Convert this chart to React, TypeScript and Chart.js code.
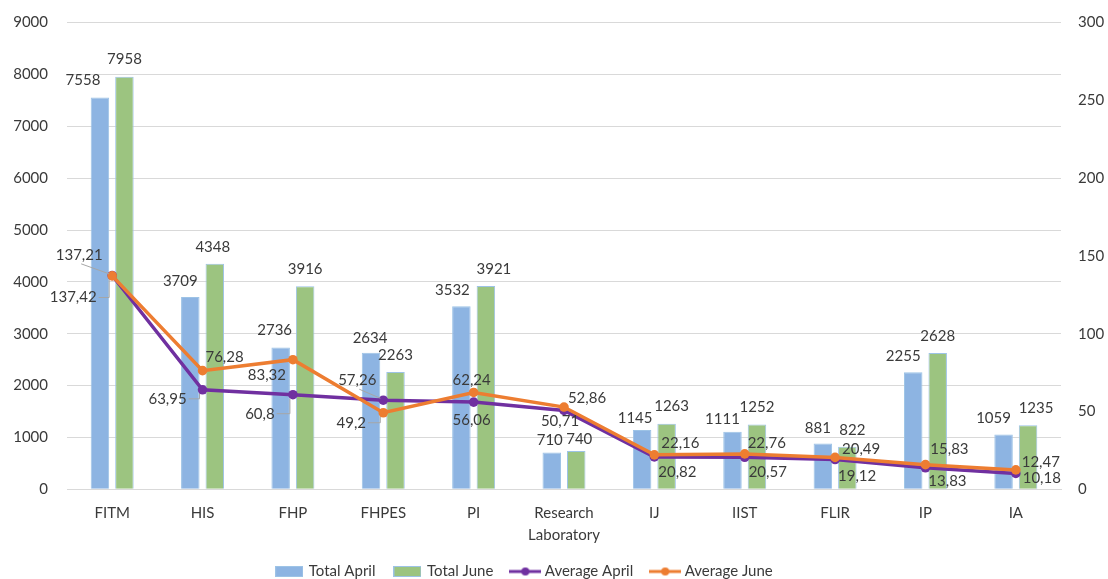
import React, { useEffect, useRef } from 'react';
import { Chart, registerables } from 'chart.js';

Chart.register(...registerables);

const categories: (string | string[])[] = ['FITM', 'HIS', 'FHP', 'FHPES', 'PI', ['Research', 'Laboratory'], 'IJ', 'IIST', 'FLIR', 'IP', 'IA'];
const totalApril = [7558, 3709, 2736, 2634, 3532, 710, 1145, 1111, 881, 2255, 1059];
const totalJune = [7958, 4348, 3916, 2263, 3921, 740, 1263, 1252, 822, 2628, 1235];
const averageApril = [137.42, 63.95, 60.8, 57.26, 56.06, 50.71, 20.82, 20.57, 19.12, 13.83, 10.18];
const averageJune = [137.21, 76.28, 83.32, 49.2, 62.24, 52.86, 22.16, 22.76, 20.49, 15.83, 12.47];
const leftAxis = { min: 0, max: 9000, step: 1000 };
const rightAxis = { min: 0, max: 300, step: 50 };
const seriesNames = ['Total April', 'Total June', 'Average April', 'Average June'];

const BLUE = '#8DB4E2';
const GREEN = '#9CC480';
const PURPLE = '#7030A0';
const ORANGE = '#ED7D31';
const TEXT = '#3A3A3A';
const FONT = 'Lato';

// label placement (style only): [dx, dy, leader]
const LABEL_OFFSETS: [number, number, number][][] = [
  [[-17, -17, 0], [-10, -16, 0], [-6, -17, 0], [-1, -15, 0], [-9, -16, 0], [-2, -12, 0], [-7, -12, 0], [-10, -13, 0], [-5, -15, 0], [-10, -16, 0], [-10, -16, 0]],
  [[0, -17, 0], [-2, -17, 0], [0, -17, 0], [0, -17, 0], [8, -17, 0], [3, -12, 0], [5, -18, 0], [0, -17, 0], [5, -17, 0], [0, -17, 0], [8, -17, 0]],
  [[-39, 22, 1], [-35, 9, 1], [-33, 19, 1], [-26, -20, 1], [-2, 18, 0], [-4, 11, 0], [23, 15, 0], [23, 15, 0], [22, 17, 0], [22, 13, 0], [26, 5, 0]],
  [[-33, -21, 1], [22, -13, 0], [-26, 15, 0], [-32, 10, 1], [-2, -12, 0], [23, -9, 0], [26, -12, 0], [22, -11, 0], [26, -8, 0], [24, -16, 0], [25, -8, 0]],
];

const valueLabels = {
  id: 'valueLabels',
  afterLayout(chart: any) {
    // shift the legend block slightly left, as in the reference
    if (chart.legend) chart.legend.right -= 58;
  },
  afterDatasetsDraw(chart: any) {
    const ctx = chart.ctx;
    ctx.save();
    ctx.font = `15px ${FONT}`;
    ctx.textAlign = 'center';
    ctx.textBaseline = 'middle';
    chart.data.datasets.forEach((ds: any, di: number) => {
      const meta = chart.getDatasetMeta(di);
      meta.data.forEach((el: any, i: number) => {
        const v = ds.data[i];
        const [dx, dy, leader] = LABEL_OFFSETS[di][i];
        const x = el.x + dx;
        const y = el.y + dy;
        const text = String(v).replace('.', ',');
        const w = ctx.measureText(text).width;
        if (leader) {
          ctx.strokeStyle = '#A6A6A6';
          ctx.lineWidth = 1;
          ctx.beginPath();
          if (el.y > y) {
            ctx.moveTo(x + 2, y + 9);
            ctx.lineTo(el.x - 3, el.y - 2);
          } else {
            ctx.moveTo(x + w / 2 + 2, y);
            ctx.lineTo(el.x - 3, y);
            ctx.lineTo(el.x - 3, el.y + 4);
          }
          ctx.stroke();
        }
        ctx.fillStyle = TEXT;
        ctx.fillText(text, x, y);
      });
    });
    ctx.restore();
  },
};

function makeBarIcon(color: string) {
  const c = document.createElement('canvas');
  c.width = 28;
  c.height = 11;
  const g = c.getContext('2d')!;
  g.fillStyle = color;
  g.fillRect(0, 0, 28, 11);
  g.strokeStyle = '#9DC3E6';
  g.lineWidth = 1;
  g.strokeRect(0.5, 0.5, 27, 10);
  return c;
}

function makeLineIcon(color: string) {
  const c = document.createElement('canvas');
  c.width = 32;
  c.height = 12;
  const g = c.getContext('2d')!;
  g.strokeStyle = color;
  g.lineWidth = 3;
  g.beginPath();
  g.moveTo(0, 6);
  g.lineTo(32, 6);
  g.stroke();
  g.fillStyle = color;
  g.beginPath();
  g.arc(16, 6, 4, 0, Math.PI * 2);
  g.fill();
  return c;
}

export default function App() {
  const ref = useRef<HTMLCanvasElement>(null);

  useEffect(() => {
    if (!ref.current) return;
    const icons = [makeBarIcon(BLUE), makeBarIcon(GREEN), makeLineIcon(PURPLE), makeLineIcon(ORANGE)];
    const chart = new Chart(ref.current, {
      type: 'bar',
      data: {
        labels: categories as any,
        datasets: [
          { type: 'bar', label: seriesNames[0], data: totalApril, backgroundColor: BLUE, borderColor: '#9DC3E6', borderWidth: 1, yAxisID: 'y', order: 2, categoryPercentage: 0.542, barPercentage: 0.755 },
          { type: 'bar', label: seriesNames[1], data: totalJune, backgroundColor: GREEN, borderColor: '#9DC3E6', borderWidth: 1, yAxisID: 'y', order: 3, categoryPercentage: 0.542, barPercentage: 0.755 },
          { type: 'line', label: seriesNames[2], data: averageApril, borderColor: PURPLE, backgroundColor: PURPLE, borderWidth: 3.5, pointRadius: 4.8, pointBorderWidth: 0, pointBackgroundColor: PURPLE, tension: 0, yAxisID: 'y1', order: 1 },
          { type: 'line', label: seriesNames[3], data: averageJune, borderColor: ORANGE, backgroundColor: ORANGE, borderWidth: 3.5, pointRadius: 4.8, pointBorderWidth: 0, pointBackgroundColor: ORANGE, tension: 0, yAxisID: 'y1', order: 0 },
        ] as any,
      },
      options: {
        responsive: false,
        animation: false,
        devicePixelRatio: 1,
        layout: { padding: { top: 22.6, left: 0, right: 0, bottom: 0 } },
        plugins: {
          tooltip: { enabled: false },
          title: { display: false },
          legend: {
            position: 'bottom',
            labels: {
              usePointStyle: true,
              pointStyleWidth: 24,
              boxHeight: 12,
              padding: 20,
              color: TEXT,
              font: { family: FONT, size: 15 },
              generateLabels: (ch: any) => {
                const items = (Chart.defaults.plugins.legend.labels as any).generateLabels(ch);
                return items
                  .sort((a: any, b: any) => a.datasetIndex - b.datasetIndex)
                  .map((it: any) => ({ ...it, pointStyle: icons[it.datasetIndex], lineWidth: 0 }));
              },
            },
          },
        },
        scales: {
          x: {
            grid: { display: false, drawTicks: false },
            border: { display: true, color: '#D9D9D9', width: 1 },
            ticks: { color: TEXT, font: { family: FONT, size: 15, lineHeight: 1.45 }, padding: 13, maxRotation: 0, autoSkip: false },
            afterFit: (s: any) => { s.height = 54.7; },
          },
          y: {
            position: 'left', min: leftAxis.min, max: leftAxis.max,
            grid: { color: '#D9D9D9', drawTicks: false },
            border: { display: false },
            ticks: { stepSize: leftAxis.step, color: TEXT, font: { family: FONT, size: 15 }, padding: 19, callback: (v: any) => String(v) },
            afterFit: (s: any) => { s.width = 67; s.paddingTop = 0; s.paddingBottom = 0; },
          },
          y1: {
            position: 'right', min: rightAxis.min, max: rightAxis.max,
            grid: { display: false, drawTicks: false },
            border: { display: false },
            ticks: { stepSize: rightAxis.step, color: TEXT, font: { family: FONT, size: 15 }, padding: 17, callback: (v: any) => String(v) },
            afterFit: (s: any) => { s.width = 47; s.paddingTop = 0; s.paddingBottom = 0; },
          },
        },
      } as any,
      plugins: [valueLabels],
    });
    return () => chart.destroy();
  }, []);

  return (
    <div style={{ position: 'fixed', left: 0, top: 0, width: 1108, height: 589, background: '#fff' }}>
      <canvas ref={ref} width={1108} height={589} style={{ display: 'block' }} />
    </div>
  );
}
